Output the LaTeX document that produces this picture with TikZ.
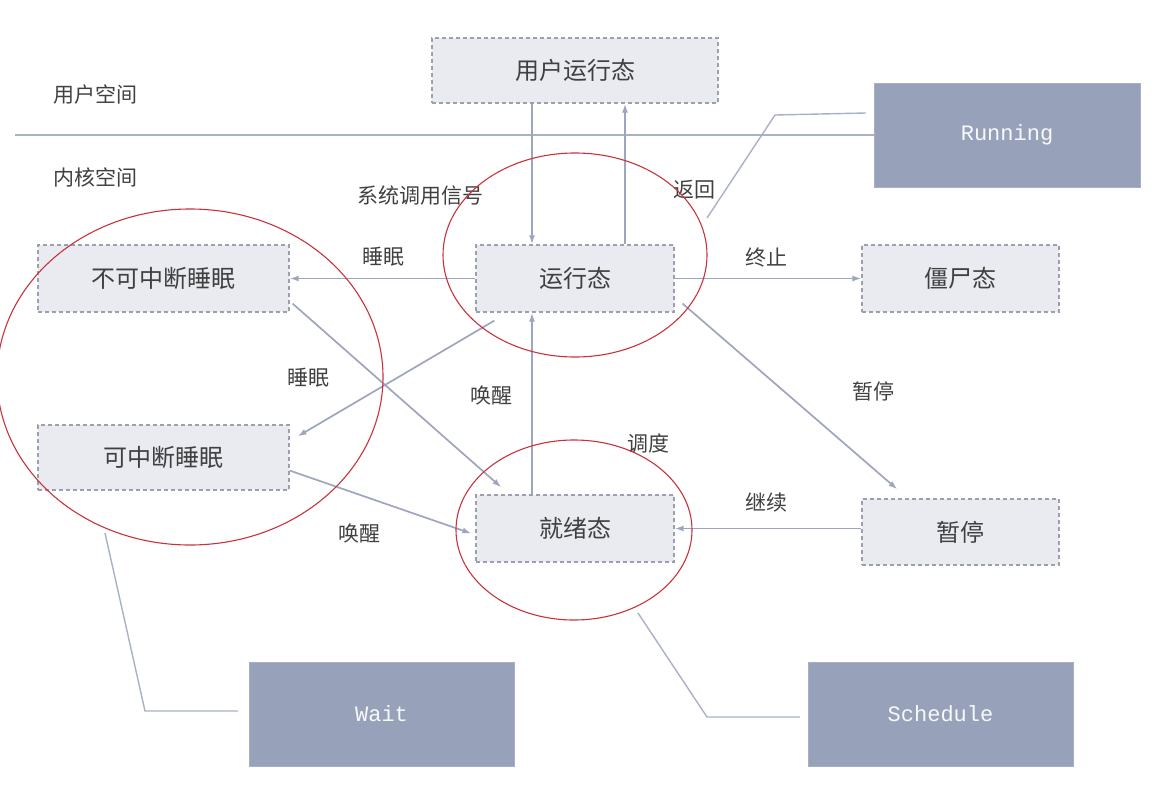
\documentclass[tikz,border=0pt]{standalone}
\usepackage{fontspec}
\setmainfont{Noto Sans CJK SC}
\setmonofont{Liberation Mono}
\usepackage{tikz}
\usetikzlibrary{shapes.geometric, arrows.meta}
\definecolor{boxFill}{RGB}{233,235,241}
\definecolor{boxLine}{RGB}{154,160,174}
\definecolor{tagFill}{RGB}{151,161,186}
\definecolor{arrowC}{RGB}{158,166,191}
\definecolor{ringC}{RGB}{200,50,60}
\definecolor{lineC}{RGB}{169,177,200}
\definecolor{txt}{RGB}{64,64,64}
\tikzstyle{state}   = [rectangle, draw=boxLine, fill=boxFill, dash pattern=on 4pt off 3pt,
line width=1.2pt, minimum width=198pt, minimum height=67pt, text=txt,
font=\fontsize{24}{28}\selectfont]
\tikzstyle{tag}     = [rectangle, draw=tagFill!85, fill=tagFill, minimum width=266pt,
minimum height=104pt, text=white!92!tagFill, font=\ttfamily\fontsize{22}{26}\selectfont]
\tikzstyle{lab}     = [text=txt, font=\fontsize{21}{25}\selectfont]
\tikzstyle{arrow}   = [-{Latex[length=9pt,width=6pt]}, draw=arrowC, line width=1.7pt]
\tikzstyle{ring}    = [draw=ringC, line width=1.1pt]
\tikzstyle{callout} = [draw=lineC, line width=1.4pt]

\begin{document}
\begin{tikzpicture}[x=1pt, y=-1pt]
      \useasboundingbox (0,0) rectangle (1161,800);

      \node(User) [state, minimum width=286pt, minimum height=65pt] at (575,70.5) {用户运行态};
      \node(Unint)[state, minimum width=251pt] at (163.5,278.5) {不可中断睡眠};
      \node(Run)  [state] at (575,278.5) {运行态};
      \node(Zomb) [state, minimum width=197pt] at (960.5,278.5) {僵尸态};
      \node(Intr) [state, minimum width=251pt, minimum height=65pt] at (163.5,457.5) {可中断睡眠};
      \node(Ready)[state] at (575,528.5) {就绪态};
      \node(Stop) [state, minimum width=197pt, minimum height=66pt] at (960.5,532) {暂停};

      \node(Running) [tag] at (1007,135) {Running};
      \node(Wait)    [tag, minimum width=265pt] at (381.5,714) {Wait};
      \node(Sched)   [tag, minimum width=265pt] at (940.5,714) {Schedule};

      \node(UserSp) [lab] at (95,95)   {用户空间};
      \node(KernSp) [lab] at (95,177)  {内核空间};
      \node(SysCall)[lab] at (420,196) {系统调用信号};
      \node(Ret)    [lab] at (694,190) {返回};
      \node(SleepA) [lab] at (383,257) {睡眠};
      \node(Term)   [lab] at (766,257) {终止};
      \node(SleepB) [lab] at (308,378) {睡眠};
      \node(WakeA)  [lab] at (491,395) {唤醒};
      \node(Pause)  [lab] at (873,391) {暂停};
      \node(Disp)   [lab] at (648,443) {调度};
      \node(Cont)   [lab] at (766,503) {继续};
      \node(WakeB)  [lab] at (359,533) {唤醒};

      % user / kernel divider
      \coordinate(DivL) at (15,135);
      \draw [callout] (DivL) -- (Running.west);

      % transitions
      \draw [arrow] ([xshift=-43pt]User.south) -- ([xshift=-43pt]Run.north);
      \draw [arrow] ([xshift=50pt]Run.north)   -- ([xshift=50pt]User.south);
      \draw [arrow] (Run.west)  -- (Unint.east);
      \draw [arrow] (Run.east)  -- (Zomb.west);
      \draw [arrow] ([xshift=19pt,yshift=-8pt]Run.south west) -- ([xshift=8pt,yshift=-12pt]Intr.north east);
      \draw [arrow] ([xshift=3pt,yshift=9pt]Unint.south east) -- ([xshift=26pt,yshift=7pt]Ready.north west);
      \draw [arrow] ([xshift=-43pt]Ready.north) -- ([xshift=-43pt]Run.south);
      \draw [arrow] ([yshift=-13pt]Intr.east) -- ([xshift=-4pt,yshift=-5pt]Ready.west);
      \draw [arrow] ([xshift=8pt,yshift=9pt]Run.south east) -- ([xshift=36pt,yshift=9pt]Stop.north west);
      \draw [arrow] (Stop.west |- Ready.east) -- (Ready.east);

      % red rings
      \draw [ring] (575,255) ellipse [x radius=132pt, y radius=102pt];
      \draw [ring] (574,530) ellipse [x radius=118pt, y radius=90pt];
      \draw [ring] (190,377) ellipse [x radius=193pt, y radius=168pt];

      % callouts
      \coordinate(RunA) at (775,115);
      \coordinate(RunB) at (707,218);
      \draw [callout] ([xshift=-8pt,yshift=22pt]Running.west) -- (RunA) -- (RunB);
      \coordinate(WaitA) at (105,533);
      \coordinate(WaitB) at (145,711);
      \draw [callout] (WaitA) -- (WaitB) -- ([xshift=-11pt,yshift=3pt]Wait.west);
      \coordinate(SchA) at (638,613);
      \coordinate(SchB) at (707,717);
      \draw [callout] (SchA) -- (SchB) -- ([xshift=-8pt,yshift=-3pt]Sched.west);
    \end{tikzpicture}
\end{document}
